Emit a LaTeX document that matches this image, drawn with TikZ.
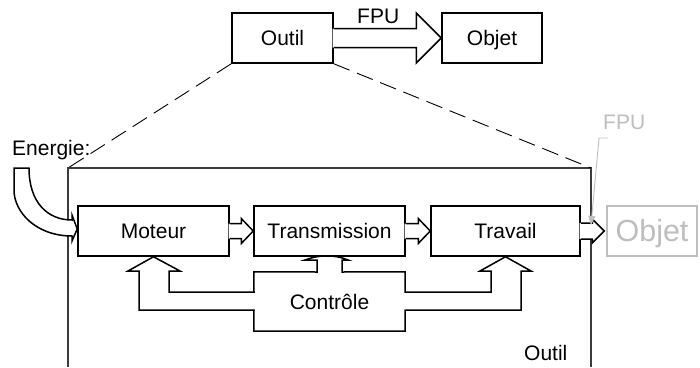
\documentclass[tikz,border=0pt]{standalone}
\usepackage{fontspec}
\setmainfont{Liberation Sans}
\usetikzlibrary{arrows.meta}

\newcommand\diagfont{\fontsize{21}{24}\selectfont}

% Block arrow glued to a box: #1 tail anchor, #2 tip point,
% #3 shaft half-width, #4 head half-width, #5 head length (all in pt)
\newcommand\hblockarrow[5]{%
  \fill[white] ([xshift=-1.2pt,yshift=#3pt]#1) -- ([xshift=-#5pt,yshift=#3pt]#2)
    -- ([xshift=-#5pt,yshift=#4pt]#2) -- (#2) -- ([xshift=-#5pt,yshift=-#4pt]#2)
    -- ([xshift=-#5pt,yshift=-#3pt]#2) -- ([xshift=-1.2pt,yshift=-#3pt]#1) -- cycle;
  \draw[blockline] ([yshift=#3pt]#1) -- ([xshift=-#5pt,yshift=#3pt]#2)
    -- ([xshift=-#5pt,yshift=#4pt]#2) -- (#2) -- ([xshift=-#5pt,yshift=-#4pt]#2)
    -- ([xshift=-#5pt,yshift=-#3pt]#2) -- ([yshift=-#3pt]#1);
}

\definecolor{ghost}{RGB}{190,190,190}
\definecolor{frame}{RGB}{60,60,60}

\begin{document}
\begin{tikzpicture}[x=1pt,y=-1pt,
  box/.style={draw, line width=1.5pt, inner sep=0pt, minimum height=50pt,
    text height=15pt, text depth=0pt, font=\diagfont},
  blockline/.style={line width=1.5pt, line join=miter},
  label/.style={inner sep=0pt, font=\diagfont},
  frameline/.style={draw=frame, line width=1.2pt},
  zoomline/.style={line width=0.9pt, dash pattern=on 17pt off 8pt},
  ghostbox/.style={draw=ghost, line width=1.5pt, inner sep=0pt, minimum height=50pt,
    text=ghost, text height=21pt, text depth=0pt, font=\fontsize{30.5}{34}\selectfont},
  leader/.style={draw=ghost, line width=0.9pt, -{Triangle[length=9pt,width=7pt]}, fill=none}
]
\fill[white] (0,0) rectangle (700,367);
\useasboundingbox (0,0) rectangle (700,367);

% --- top level: tool acting on object
\node[box, minimum width=101pt] (outil) at (282.5,38) {Outil};
\node[box, minimum width=100pt] (objet) at (492,38) {Objet};
\hblockarrow{outil.east}{objet.west}{9.5}{25}{25}
\node[label, anchor=base west] (fpu) at (357,23) {FPU};

% --- enclosing frame of the detailed tool (open at the bottom)
\coordinate (frametl) at (68,168);
\coordinate (frametr) at (591,168);
\draw[frameline] (68,367) -- (frametl) -- (frametr) -- (591,367);
\draw[zoomline] (outil.south west) -- (frametl);
\draw[zoomline] (outil.south east) -- (frametr);
\node[label, anchor=base west] (outilb) at (524,360) {Outil};

% --- chain of functions
\node[box, minimum width=151pt] (mot)   at (153.5,231) {Moteur};
\node[box, minimum width=151pt] (trans) at (329.5,231) {Transmission};
\node[box, minimum width=149pt] (trav)  at (505.5,231) {Travail};
\hblockarrow{mot.east}{trans.west}{7.5}{12.5}{12}
\hblockarrow{trans.east}{trav.west}{7.5}{12.5}{12}

% --- object acted upon (ghosted)
\node[ghostbox, minimum width=90pt] (objg) at (652,231) {Objet};
\coordinate (objtip) at ([xshift=-2pt]objg.west);
\hblockarrow{trav.east}{objtip}{8}{12}{12}
\node[label, anchor=base west, text=ghost] (fpug) at (603,129) {FPU};
\coordinate (fpulead) at (608,138);
\coordinate (fpuend) at (591,225);
\draw[leader] (fpulead) -- (599,138) -- (fpuend);

% --- energy input
\node[label, anchor=base west] (energie) at (12,155) {Energie:};
\filldraw[blockline, fill=white] (14,168) -- (29,168)
  .. controls (29,203) and (48,220) .. (72,220) -- (72,215)
  -- ([yshift=2pt]mot.west) -- (72,241) -- (72,236)
  .. controls (36,236) and (14,212) .. (14,190) -- cycle;

% --- control block feeding the three functions
\node[label, minimum width=151pt, minimum height=59pt] (ctl) at (329.5,301.5) {Contrôle};
\draw[blockline] (ctl.north west) -- (317,272) -- (317,260) -- (305,260)
  .. controls (319,254.5) and (335,254.5) .. (348,260) -- (342,260) -- (342,272)
  -- (ctl.north east) -- (405,292) -- (491,292) -- (491,271) -- (480,271)
  -- (trav.south) -- (531,271) -- (521,271) -- (521,310) -- (405,310)
  -- (ctl.south east) -- (ctl.south west) -- (254,310) -- (139,310)
  -- (139,271) -- (128,271) -- (mot.south) -- (180,271) -- (169,271)
  -- (169,292) -- (254,292) -- cycle;
\end{tikzpicture}
\end{document}
